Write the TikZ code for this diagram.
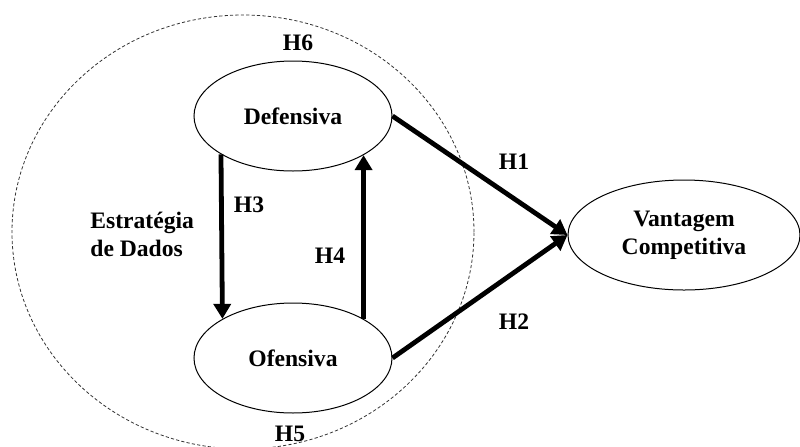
\documentclass[tikz,border=0pt]{standalone}
\usepackage{fontspec}
\setmainfont{Liberation Serif}
\usetikzlibrary{shapes.geometric,arrows.meta}
\begin{document}
\begin{tikzpicture}[x=0.5pt,y=-0.5pt,
  lbl/.style={font=\bfseries\fontsize{11.8}{14}\selectfont, inner sep=0pt},
  construct/.style={draw, ellipse, line width=0.5pt, inner sep=0pt,
    minimum width=99pt, minimum height=55pt, lbl, align=center},
  rel/.style={line width=2.4pt, -{Triangle[length=7.5pt,width=8.5pt]}},
  strategy/.style={draw, ellipse, dashed, dash pattern=on 1.6pt off 1.1pt,
    line width=0.4pt, draw=black!80, inner sep=0pt,
    minimum width=231pt, minimum height=217pt}]
\useasboundingbox (0,0) rectangle (800,446);
\node[strategy] (strat) at (243,232) {};
\node[construct] (def) at (293,116) {Defensiva};
\node[construct] (ofe) at (293,358) {Ofensiva};
\node[construct, minimum width=116pt] (van) at (684,235) {Vantagem\\Competitiva};
\node[lbl, anchor=west, align=left] (est) at (90,234) {Estratégia\\de Dados};
\node[lbl] (h6) at (298,43) {H6};
\node[lbl] (h5) at (290,434) {H5};
\node[lbl] (h3) at (249,205) {H3};
\node[lbl] (h4) at (330,256) {H4};
\node[lbl] (h1) at (514,162) {H1};
\node[lbl] (h2) at (514,322) {H2};
\draw[rel] (def.208.8) -- (ofe.151.2);
\draw[rel] (ofe.29.7) -- (def.-29.7);
\draw[rel] (def.east) -- (van.west);
\draw[rel] (ofe.east) -- (van.west);
\end{tikzpicture}
\end{document}
